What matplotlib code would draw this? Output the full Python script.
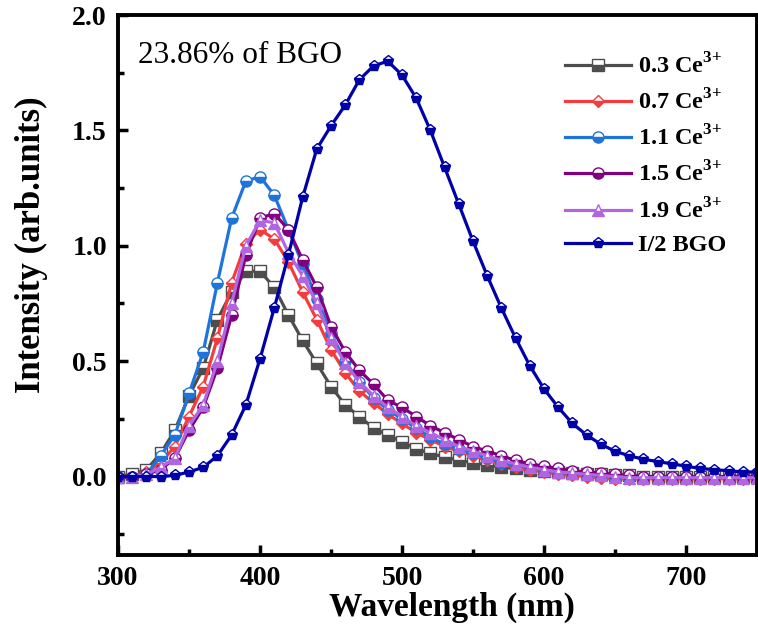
import numpy as np
from matplotlib import pyplot as plt
from matplotlib.ticker import MultipleLocator

plt.rcParams['font.family'] = ['Liberation Serif', 'DejaVu Serif']
plt.rcParams['mathtext.fontset'] = 'custom'
plt.rcParams['mathtext.rm'] = 'Liberation Serif:bold'
plt.rcParams['mathtext.bf'] = 'Liberation Serif:bold'

wavelength = np.arange(300, 751, 10)

ce03 = [0, 0.01, 0.03, 0.10, 0.20, 0.35, 0.47, 0.68, 0.80, 0.89,
        0.89, 0.82, 0.70, 0.59, 0.49, 0.39, 0.31, 0.26, 0.21, 0.18,
        0.15, 0.12, 0.10, 0.085, 0.07, 0.06, 0.05, 0.04, 0.035, 0.03,
        0.025, 0.02, 0.015, 0.01, 0.01, 0.005, 0.005, 0, 0, 0,
        0, 0, 0, 0, 0, 0]
ce07 = [0, 0, 0.02, 0.06, 0.13, 0.26, 0.39, 0.60, 0.84, 1.01,
        1.07, 1.03, 0.93, 0.80, 0.68, 0.55, 0.45, 0.37, 0.32, 0.27,
        0.23, 0.19, 0.16, 0.13, 0.11, 0.09, 0.07, 0.055, 0.04, 0.03,
        0.02, 0.01, 0.005, 0, -0.005, -0.01, -0.01, -0.01, -0.01, -0.01,
        -0.01, -0.01, -0.01, -0.01, -0.01, -0.01]
ce11 = [0, 0, 0.01, 0.09, 0.18, 0.36, 0.54, 0.84, 1.12, 1.28,
        1.30, 1.22, 1.07, 0.92, 0.77, 0.62, 0.50, 0.41, 0.34, 0.29,
        0.25, 0.21, 0.17, 0.14, 0.12, 0.10, 0.08, 0.06, 0.05, 0.04,
        0.03, 0.02, 0.015, 0.01, 0.005, 0, 0, 0, 0, 0,
        0, 0, 0, 0, 0, 0]
ce15 = [0, 0, 0.01, 0.03, 0.08, 0.20, 0.30, 0.47, 0.70, 0.96,
        1.12, 1.14, 1.07, 0.94, 0.82, 0.65, 0.54, 0.46, 0.40, 0.33,
        0.30, 0.26, 0.22, 0.19, 0.16, 0.13, 0.11, 0.09, 0.07, 0.055,
        0.045, 0.035, 0.025, 0.02, 0.015, 0.01, 0.005, 0, 0, 0,
        0, 0, 0, 0, 0, 0]
ce19 = [0, 0, 0.01, 0.04, 0.08, 0.22, 0.31, 0.50, 0.75, 1.00,
        1.11, 1.10, 0.97, 0.87, 0.75, 0.60, 0.49, 0.41, 0.35, 0.30,
        0.26, 0.22, 0.19, 0.16, 0.13, 0.11, 0.09, 0.07, 0.055, 0.04,
        0.03, 0.02, 0.015, 0.01, 0.005, 0, -0.005, -0.005, -0.005, -0.005,
        -0.005, -0.005, -0.005, -0.005, -0.005, -0.005]
bgo_half = [0, 0, 0, 0, 0.005, 0.02, 0.04, 0.09, 0.18, 0.31,
            0.51, 0.73, 0.96, 1.21, 1.42, 1.52, 1.61, 1.72, 1.78, 1.80,
            1.74, 1.64, 1.50, 1.34, 1.18, 1.02, 0.87, 0.73, 0.60, 0.48,
            0.38, 0.30, 0.23, 0.18, 0.14, 0.11, 0.09, 0.075, 0.065, 0.055,
            0.045, 0.035, 0.03, 0.025, 0.02, 0.02]

series = [
    (ce03, "0.3 Ce$^{3{+}}$", "#4d4d4d", "s"),
    (ce07, "0.7 Ce$^{3{+}}$", "#f53c3c", "D"),
    (ce11, "1.1 Ce$^{3{+}}$", "#1e74db", "o"),
    (ce15, "1.5 Ce$^{3{+}}$", "#800080", "o"),
    (ce19, "1.9 Ce$^{3{+}}$", "#b066e0", "^"),
    (bgo_half, "I/2 BGO", "#0000a8", "p"),
]

fig = plt.figure(figsize=(7.58, 6.33), dpi=100)
ax = fig.add_axes([0.1557, 0.1232, 0.843, 0.853])

for y, lab, col, mk in series:
    ms = 6.5 if mk == "D" else 8
    ax.plot(wavelength, y, color=col, lw=2.3, marker=mk, ms=ms,
            fillstyle='bottom', markerfacecoloralt='white',
            markeredgecolor=col, markeredgewidth=1.0, label=lab)

ax.set_xlim(300, 750)
ax.set_ylim(-0.34, 2.0)
ax.xaxis.set_major_locator(MultipleLocator(100))
ax.xaxis.set_minor_locator(MultipleLocator(50))
ax.yaxis.set_major_locator(MultipleLocator(0.5))
ax.yaxis.set_minor_locator(MultipleLocator(0.25))
ax.tick_params(which='both', direction='in', top=False, right=False, width=2.5)
ax.tick_params(which='major', length=7, labelsize=20)
ax.tick_params(axis='y', which='major', pad=8)
ax.tick_params(axis='x', which='major', pad=8)
ax.tick_params(which='minor', length=4)
for lbl in ax.get_xticklabels() + ax.get_yticklabels():
    lbl.set_fontweight('bold')
for sp in ax.spines.values():
    sp.set_linewidth(2.8)

ax.set_xlabel("Wavelength (nm)", fontsize=24, fontweight='bold')
ax.xaxis.set_label_coords(0.523, -0.068)
ax.set_ylabel("Intensity (arb.units)", fontsize=25, fontweight='bold')
ax.yaxis.set_label_coords(-0.11, 0.574)

ax.text(0.031, 0.925, "23.86% of BGO", transform=ax.transAxes,
        fontsize=22.5, va='center', ha='left')

leg = ax.legend(loc='upper left', bbox_to_anchor=(0.70, 0.93), frameon=False,
                borderaxespad=0, borderpad=0, handlelength=2.7, handletextpad=0.3,
                labelspacing=0.45, prop={'size': 17.5, 'weight': 'bold'})

fig.savefig("out.png", dpi=100)
